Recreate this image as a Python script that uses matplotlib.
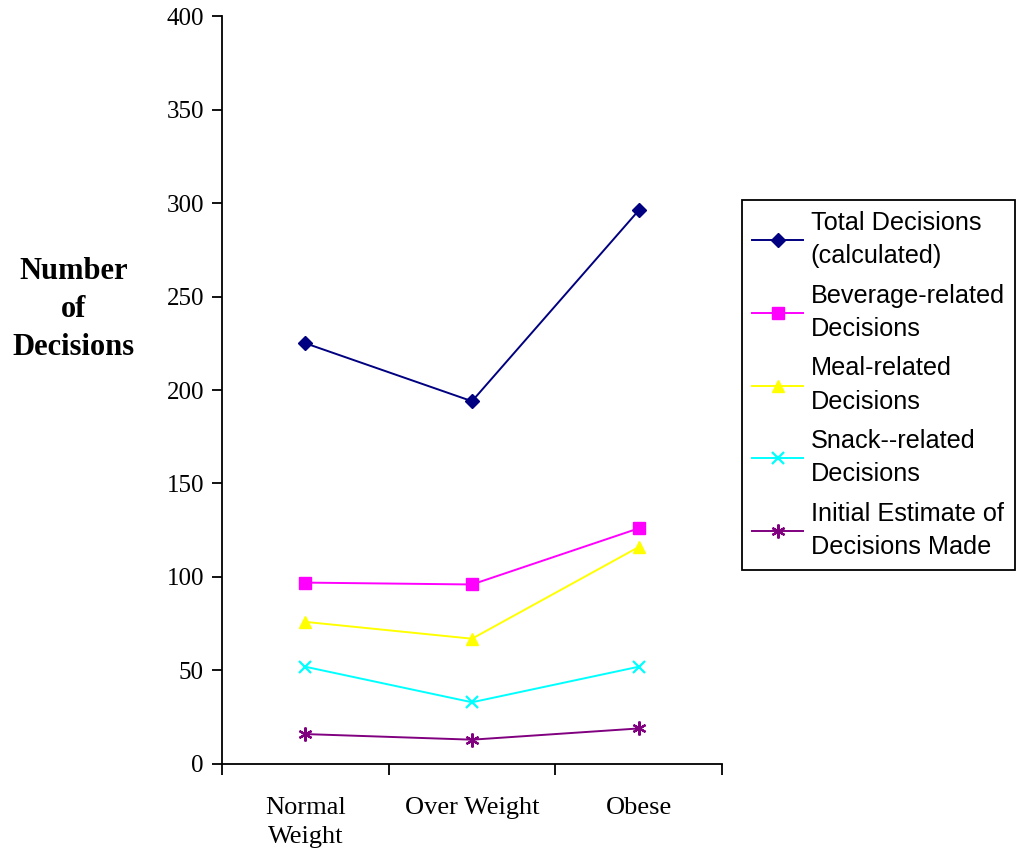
import numpy as np
import matplotlib.pyplot as plt

# Decisions by weight group
categories = ['Normal\nWeight', 'Over Weight', 'Obese']
series_names = ['Total Decisions\n(calculated)', 'Beverage-related\nDecisions',
                'Meal-related\nDecisions', 'Snack--related\nDecisions',
                'Initial Estimate of\nDecisions Made']
total = [225, 194, 296]
beverage = [97, 96, 126]
meal = [76, 67, 116]
snack = [52, 33, 52]
initial = [16, 13, 19]
y_ticks = [0, 50, 100, 150, 200, 250, 300, 350, 400]

colors = ['#000080', '#FF00FF', '#FFFF00', '#00FFFF', '#800080']
markers = ['D', 's', '^', 'x', (6, 2, 0)]
msizes = [7.5, 8, 9, 9, 10]

fig = plt.figure(figsize=(10.19, 8.52), dpi=100)
ax = fig.add_axes([0.2179, 0.1033, 0.4906, 0.8779])

x = np.arange(len(categories))
for vals, name, c, m, ms in zip([total, beverage, meal, snack, initial],
                                series_names, colors, markers, msizes):
    ax.plot(x, vals, color=c, marker=m, markersize=ms, linewidth=1.4,
            markeredgewidth=1.6 if (m == 'x' or isinstance(m, tuple)) else 1,
            label=name)

ax.set_xlim(-0.5, 2.5)
ax.set_ylim(0, 400)
ax.set_yticks(y_ticks)
ax.set_xticks([-0.5, 0.5, 1.5, 2.5])
ax.set_xticklabels([])
ax.set_xticks(x, minor=True)
ax.set_xticklabels(categories, minor=True, fontfamily='Liberation Serif', fontsize=19,
                   linespacing=1.4)
ax.tick_params(axis='x', which='minor', length=0, pad=24)
ax.tick_params(axis='x', which='major', direction='out', length=8, width=1.3)
ax.tick_params(axis='y', direction='out', length=7, width=1.3, pad=6)
for lbl in ax.get_yticklabels():
    lbl.set_fontfamily('Liberation Serif')
    lbl.set_fontsize(18)

for side in ['top', 'right']:
    ax.spines[side].set_visible(False)
for side in ['left', 'bottom']:
    ax.spines[side].set_linewidth(1.3)

fig.text(0.072, 0.637, 'Number\nof\nDecisions', ha='center', va='center',
         fontfamily='Liberation Serif', fontweight='bold', fontsize=22, linespacing=1.4)

leg = fig.legend(loc='upper left', bbox_to_anchor=(0.728, 0.765), frameon=True,
                 fancybox=False, edgecolor='black', framealpha=1, handlelength=2.0,
                 prop={'family': 'Liberation Sans', 'size': 18.2},
                 labelspacing=0.6, borderpad=0.42, handletextpad=0.3,
                 borderaxespad=0)
for t in leg.get_texts():
    t.set_linespacing(1.5)
leg.get_frame().set_linewidth(1.3)

fig.savefig('out.png', dpi=100)
